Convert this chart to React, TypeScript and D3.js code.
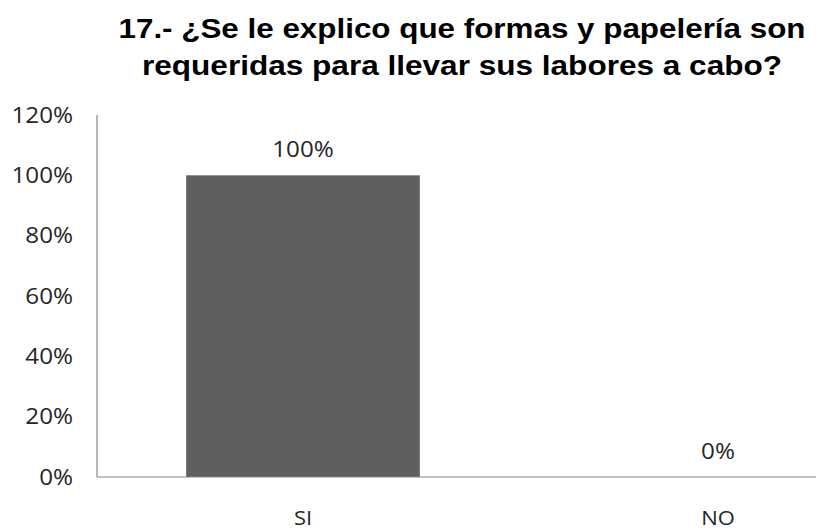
import React from "react";
import * as d3 from "d3";

const title = ["17.- ¿Se le explico que formas y papelería son", "requeridas para llevar sus labores a cabo?"];
const titleWidths = [687, 640];
const categories = ["SI", "NO"];
const values = [1.0, 0.0];
const yTicks = [0, 0.2, 0.4, 0.6, 0.8, 1.0, 1.2];

const W = 816;
const H = 532;

export default function App() {
  const y = d3.scaleLinear().domain([0, 1.2]).range([477, 115]);
  const x = d3
    .scaleBand<string>()
    .domain(categories)
    .range([95.5, 925.5])
    .paddingInner(0.437)
    .paddingOuter(0.2185);
  const fmt = d3.format(".0%");
  const axisX = 97;
  const labelFont = "'Open Sans', sans-serif";
  const sx = 1.1;
  const label = (key: string, tx: number, ty: number, txt: string, anchor: string, fs = 22) => (
    <text
      key={key}
      transform={`translate(${tx},${ty}) scale(${sx},1)`}
      textAnchor={anchor}
      fontFamily={labelFont}
      fontSize={fs}
      fill="#262626"
    >
      {txt}
    </text>
  );
  return (
    <svg
      width={W}
      height={H}
      style={{ position: "fixed", left: 0, top: 0, background: "#fff" }}
    >
      <rect x={0} y={0} width={W} height={H} fill="#fff" />
      {title.map((t, i) => (
        <text
          key={i}
          x={462}
          y={38 + i * 37}
          textAnchor="middle"
          fontFamily="'Liberation Sans', Arial, sans-serif"
          fontWeight="bold"
          fontSize={27}
          textLength={titleWidths[i]}
          lengthAdjust="spacingAndGlyphs"
          fill="#000"
        >
          {t}
        </text>
      ))}
      {yTicks.map((t) => label(`t${t}`, 73, y(t) + 7.5, fmt(t), "end"))}
      {categories.map((c, i) => {
        const bx = x(c) as number;
        const bw = x.bandwidth();
        return (
          <g key={c}>
            {values[i] > 0 && (
              <rect x={bx} y={y(values[i])} width={bw} height={y(0) - y(values[i])} fill="#5f5f5f" />
            )}
            {label(`v${c}`, bx + bw / 2, y(values[i]) - 18.5, fmt(values[i]), "middle")}
            {label(`c${c}`, bx + bw / 2, 525, c, "middle", 20)}
          </g>
        );
      })}
      <line x1={axisX} x2={axisX} y1={y(1.2)} y2={y(0)} stroke="#868686" strokeWidth={1.2} />
      <line x1={axisX} x2={W} y1={y(0)} y2={y(0)} stroke="#868686" strokeWidth={1.2} />
    </svg>
  );
}
